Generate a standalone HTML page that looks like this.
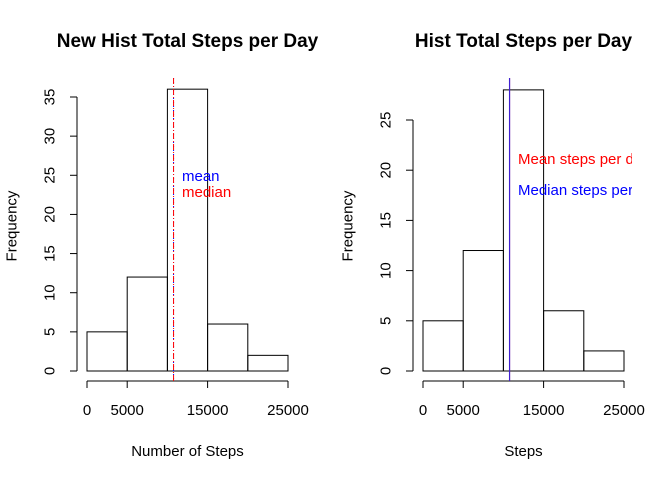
<!DOCTYPE html>
<html><head><meta charset="utf-8"><style>body{margin:0;background:#fff}svg{display:block;font-family:"Liberation Sans",sans-serif}</style></head>
<body>
<svg id="c" width="672" height="480" viewBox="0 0 672 480"></svg>
<script>
const bins=[0,5000,10000,15000,20000,25000];
const countsLeft=[5,12,36,6,2];
const countsRight=[5,12,28,6,2];
const xTicks=[0,5000,15000,25000];
const yTicksLeft=[0,5,10,15,20,25,30,35];
const yTicksRight=[0,5,10,15,20,25];
const meanSteps=10766;
const medianSteps=10766;
const NS="http://www.w3.org/2000/svg";
const svg=document.getElementById('c');
function el(t,a,p){const e=document.createElementNS(NS,t);for(const k in a)e.setAttribute(k,a[k]);(p||svg).appendChild(e);return e;}
function panel(o){
  const g=el('g',{});
  
  
  const x=v=>o.x0+(v-0)/25000*(o.x1-o.x0);
  const y=v=>371-v*o.py;
  const t=el('text',{x:(o.x1+o.x0)/2,y:47,'text-anchor':'middle','font-size':19,'font-weight':'bold'},g);t.textContent=o.title;
  
  o.counts.forEach((c,i)=>{const r=el('rect',{x:x(bins[i]),y:y(c),width:x(bins[i+1])-x(bins[i]),height:y(0)-y(c),fill:'none',stroke:'#000','stroke-width':1},g);
    });
  const xa=el('g',{},g);
  el('line',{x1:x(0),x2:x(25000),y1:381,y2:381,stroke:'#000'},xa);
  xTicks.forEach(v=>{el('line',{x1:x(v),x2:x(v),y1:381,y2:388,stroke:'#000'},xa);
    const tt=el('text',{x:x(v),y:415,'text-anchor':'middle','font-size':15},xa);tt.textContent=v;});
  const xl=el('text',{x:(x(0)+x(25000))/2,y:456,'text-anchor':'middle','font-size':15},g);xl.textContent=o.xlab;
  
  const ya=el('g',{},g);
  const yt=o.yTicks;
  el('line',{x1:o.x0-10,x2:o.x0-10,y1:y(0),y2:y(yt[yt.length-1]),stroke:'#000'},ya);
  yt.forEach(v=>{el('line',{x1:o.x0-10,x2:o.x0-17,y1:y(v),y2:y(v),stroke:'#000'},ya);
    const tt=el('text',{x:o.x0-37,y:y(v),'text-anchor':'middle','font-size':15,transform:`rotate(-90 ${o.x0-37} ${y(v)})`,'dominant-baseline':'central'},ya);tt.textContent=v;});
  const yl=el('text',{x:o.x0-75,y:226,'text-anchor':'middle','font-size':15,transform:`rotate(-90 ${o.x0-75} 226)`,'dominant-baseline':'central'},g);yl.textContent='Frequency';
  
  o.extra(g,x,y);
}
panel({name:'left-panel',x0:87,x1:288,py:(371-97)/35,counts:countsLeft,yTicks:yTicksLeft,title:'New Hist Total Steps per Day',xlab:'Number of Steps',
 extra:(g,x,y)=>{
  const l1=el('line',{x1:x(meanSteps),x2:x(meanSteps),y1:78,y2:381,stroke:'blue','stroke-dasharray':'1 3'},g);
  
  const l2=el('line',{x1:x(medianSteps),x2:x(medianSteps),y1:78,y2:381,stroke:'red','stroke-dasharray':'6 2 1 2'},g);
  
  let t=el('text',{x:182,y:181,fill:'blue','font-size':15},g);t.textContent='mean';
  t=el('text',{x:182,y:197,fill:'red','font-size':15},g);t.textContent='median';
 }});
el('defs',{}).innerHTML='<clipPath id="cr"><rect x="340" y="60" width="292" height="330"/></clipPath>';
panel({name:'right-panel',x0:423,x1:624,py:(371-120)/25,counts:countsRight,yTicks:yTicksRight,title:'Hist Total Steps per Day',xlab:'Steps',
 extra:(g,x,y)=>{
  const cg=el('g',{'clip-path':'url(#cr)'},g);
  const l1=el('line',{x1:x(meanSteps),x2:x(meanSteps),y1:78,y2:381,stroke:'red'},cg);
  
  const l2=el('line',{x1:x(medianSteps),x2:x(medianSteps),y1:78,y2:381,stroke:'#4020d0','stroke-width':1.2},cg);
  
  let t=el('text',{x:518,y:164,fill:'red','font-size':15},cg);t.textContent='Mean steps per day';
  t=el('text',{x:518,y:195,fill:'blue','font-size':15},cg);t.textContent='Median steps per day';
 }});
</script>
</body></html>
